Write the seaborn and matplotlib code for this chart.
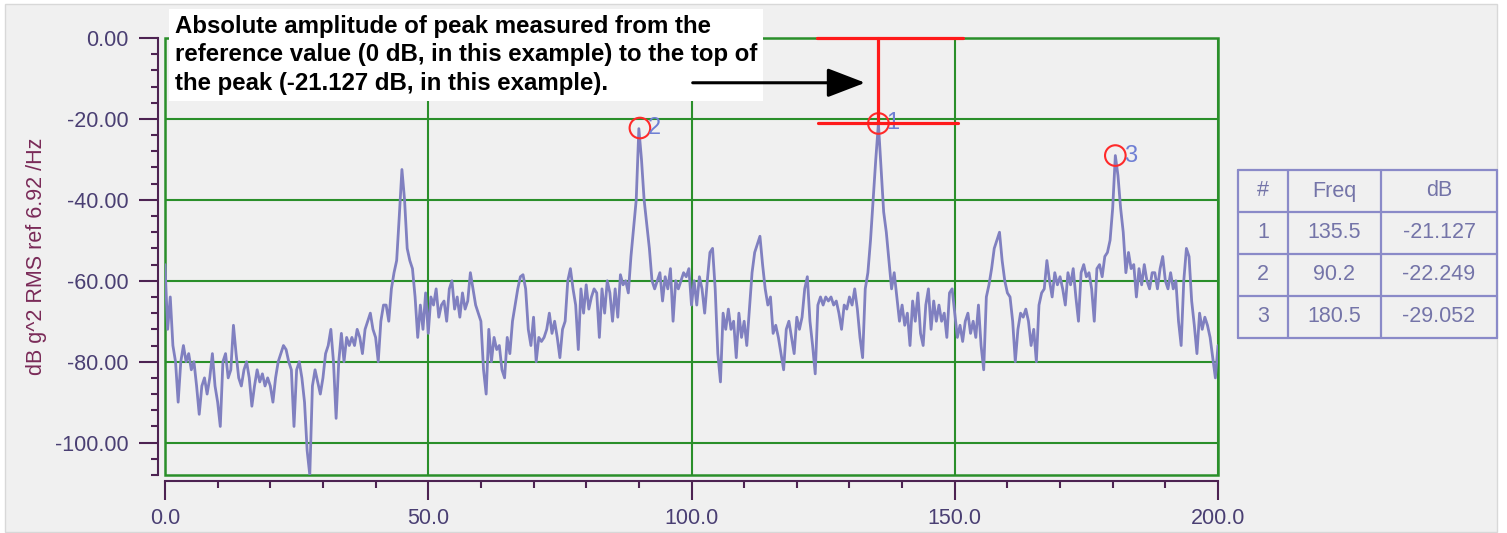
import numpy as np
import pandas as pd
import seaborn as sns
import matplotlib.pyplot as plt
from matplotlib.patches import Rectangle
from matplotlib.ticker import MultipleLocator, FormatStrFormatter

# spectrum, one value every 0.5 Hz from 0 to 200 Hz
freq_step = 0.5
db = [
    -56, -72, -64, -76, -80, -90, -80, -76, -80, -78, -82, -80, -86, -93, -86, -84, -88, -84, -78, -86,
    -90, -96, -80, -78, -84, -82, -71, -78, -84, -86, -82, -80, -84, -91, -86, -82, -85, -83, -86, -84,
    -86, -90, -84, -80, -78, -76, -77, -80, -82, -96, -82, -80, -84, -90, -102, -108, -86, -82, -85, -88,
    -84, -78, -76, -72, -80, -94, -80, -73, -80, -74, -76, -74, -76, -72, -74, -78, -72, -70, -68, -72,
    -74, -80, -70, -66, -66, -70, -62, -58, -55, -44, -32.5, -40, -52, -55, -57, -64, -74, -66, -72, -63,
    -73, -64, -66, -62, -69, -66, -65, -70, -62, -60, -67, -64, -69, -63, -67, -65, -58, -62, -66, -68,
    -70, -82, -88, -72, -80, -74, -77, -76, -82, -84, -74, -78, -70, -66, -62, -59, -58.5, -62, -72, -76,
    -69, -80, -74, -75, -74, -72, -68, -73, -70, -74, -79, -72, -70, -60, -57, -62, -66, -77, -62, -68,
    -61, -67, -64, -62, -63, -74, -62, -68, -60, -63, -70, -62, -69, -58.5, -61, -60, -63, -54, -47, -40,
    -22.4, -30, -40, -46, -52, -60, -62, -60, -58, -65, -59, -62, -57, -70, -60, -62, -60, -58, -59, -57,
    -66, -60, -66, -59, -62, -68, -60, -53, -52, -62, -78, -85, -68, -72, -67, -72, -70, -79, -68, -74,
    -70, -76, -67, -58, -53, -51, -49, -56, -62, -66, -64, -73, -71, -74, -78, -82, -72, -70, -74, -78,
    -69, -72, -69, -62, -59, -70, -76, -83, -66, -64, -66, -64, -65, -64, -66, -65, -68, -72, -66, -67,
    -64, -66, -62, -67, -74, -79, -62, -58, -50, -40, -30, -21.127, -32, -43, -48, -55, -62, -58, -64, -70,
    -66, -71, -68, -76, -65, -70, -63, -73, -76, -66, -62, -72, -65, -70, -66, -70, -68, -74, -63, -62,
    -68, -74, -71, -75, -70, -68, -73, -70, -74, -66, -76, -82, -64, -61, -57, -52, -50, -48, -55, -60,
    -63, -64, -70, -80, -72, -68, -69, -67, -70, -76, -72, -80, -66, -63, -62, -55, -60, -64, -58, -61,
    -59, -62, -66, -58, -61, -57, -64, -70, -58, -56, -59, -58, -62, -70, -57, -56, -59, -54, -53, -50,
    -42, -29.052, -34, -42, -48, -58, -53, -57, -56, -64, -57, -61, -56, -60, -62, -58, -58, -62, -57, -54,
    -60, -62, -58, -62, -60, -70, -76, -60, -52, -54, -65, -71, -78, -68, -72, -69, -71, -74, -79, -84,
    -76,
]

peak_no = ['1', '2', '3']
peak_freq = [135.5, 90.2, 180.5]
peak_db = [-21.127, -22.249, -29.052]

note = ("Absolute amplitude of peak measured from the\n"
        "reference value (0 dB, in this example) to the top of\n"
        "the peak (-21.127 dB, in this example).")

df = pd.DataFrame({'freq': np.arange(len(db)) * freq_step, 'db': db})
peaks = pd.DataFrame({'no': peak_no, 'freq': peak_freq, 'db': peak_db})

sns.set_style('ticks')
plt.rcParams['font.family'] = ['Liberation Sans', 'DejaVu Sans']

bg = '#f0f0f0'
green = '#2a8f2a'
purple = '#4d2352'
tick_col = '#4a3f73'
line_col = '#8080c0'

W, H = 1507, 533
fig = plt.figure(figsize=(W / 100, H / 100), dpi=100, facecolor='white')
fig.add_artist(Rectangle((5 / W, 1 / H), 1492 / W, 528 / H, transform=fig.transFigure,
                         fc=bg, ec='#d8d8d8', lw=1, zorder=-10))

ax = fig.add_axes([165 / W, 58 / H, 1053 / W, 437 / H])
ax.set_facecolor(bg)

sns.lineplot(data=df, x='freq', y='db', ax=ax, color=line_col, lw=2.0,
             estimator=None, zorder=3)

ax.set_xlim(0, 200)
ax.set_ylim(-108, 0)
ax.xaxis.set_major_locator(MultipleLocator(50))
ax.xaxis.set_minor_locator(MultipleLocator(10))
ax.yaxis.set_major_locator(MultipleLocator(20))
ax.yaxis.set_minor_locator(MultipleLocator(4))
ax.xaxis.set_major_formatter(FormatStrFormatter('%.1f'))
ax.yaxis.set_major_formatter(FormatStrFormatter('%.2f'))

ax.grid(True, which='major', color=green, lw=1.5)
ax.add_patch(Rectangle((0, 0), 1, 1, transform=ax.transAxes, fill=False,
                       ec=green, lw=1.8, clip_on=False, zorder=2))

for s in ['top', 'right']:
    ax.spines[s].set_visible(False)
ax.spines['left'].set_position(('outward', 5))
ax.spines['bottom'].set_position(('outward', 4.5))
for s in ['left', 'bottom']:
    ax.spines[s].set_color(purple)
    ax.spines[s].set_linewidth(1.5)

ax.tick_params(which='major', length=14, width=1.5, color=purple,
               labelsize=15.5, labelcolor=tick_col)
ax.tick_params(which='minor', length=5, width=1.5, color=purple)
ax.tick_params(axis='y', which='major', pad=7)
ax.tick_params(axis='x', which='major', pad=5)

# peak markers and their numbers
sns.scatterplot(data=peaks, x='freq', y='db', ax=ax, marker='o', s=220,
                facecolor='none', edgecolor='#ff2a2a', linewidth=1.5, zorder=5,
                clip_on=False)
for n, f, d in zip(peak_no, peak_freq, peak_db):
    ax.annotate(n, (f, d), xytext=(6, 0), textcoords='offset points',
                color='#6f7fd4', fontsize=17, va='center', ha='left', zorder=6)
ax.set_xlabel('')
ax.set_ylabel('dB g^2 RMS ref 6.92 /Hz', color='#7a2a58', fontsize=15.5)
ax.yaxis.set_label_coords(-0.112, 0.5)

# note box, drawn under the arrow
ax.text(175 / W, 1 - 15 / H, note, transform=fig.transFigure, ha='left', va='top',
        fontsize=17.3, fontweight='bold', linespacing=1.3, color='black', zorder=6,
        bbox=dict(fc='white', ec='none', boxstyle='square,pad=0.25'))

# red I-beam showing the absolute amplitude of peak 1
p_f, p_d = peak_freq[0], peak_db[0]
red = '#ff1a1a'
ax.plot([p_f - 11.7, p_f + 16.1], [0, 0], color=red, lw=2.3, clip_on=False, zorder=7)
ax.plot([p_f - 11.5, p_f + 15.1], [p_d, p_d], color=red, lw=2.3, clip_on=False, zorder=7)
ax.plot([p_f, p_f], [0, p_d], color=red, lw=2.3, clip_on=False, zorder=7)

ax.annotate('', xy=(p_f - 2, p_d / 2 - 0.5), xytext=(99.7, p_d / 2 - 0.5),
            arrowprops=dict(arrowstyle='-|>,head_length=1.3,head_width=0.5',
                            color='black', lw=2.2, mutation_scale=18), zorder=8)

# peak table on the right
tax = fig.add_axes([1238 / W, 195 / H, 259 / W, 168 / H])
tax.set_xlim(0, 259)
tax.set_ylim(168, 0)
tax.axis('off')
col_edges = [0, 50, 143, 259]
row_h = 42
tcol = '#8a8ac8'
txt_col = '#7474a8'
header = ['#', 'Freq', 'dB']
rows = [header] + [[n, f'{f:.1f}', f'{d:.3f}'] for n, f, d in zip(peak_no, peak_freq, peak_db)]
for x in col_edges:
    tax.plot([x, x], [0, row_h * len(rows)], color=tcol, lw=1.6, clip_on=False)
for i in range(len(rows) + 1):
    tax.plot([0, col_edges[-1]], [i * row_h, i * row_h], color=tcol, lw=1.6, clip_on=False)
for i, r in enumerate(rows):
    for j, val in enumerate(r):
        tax.text((col_edges[j] + col_edges[j + 1]) / 2, (i + 0.5) * row_h, val,
                 ha='center', va='center', fontsize=15.5, color=txt_col)

fig.savefig('out.png', dpi=100, facecolor=fig.get_facecolor())
